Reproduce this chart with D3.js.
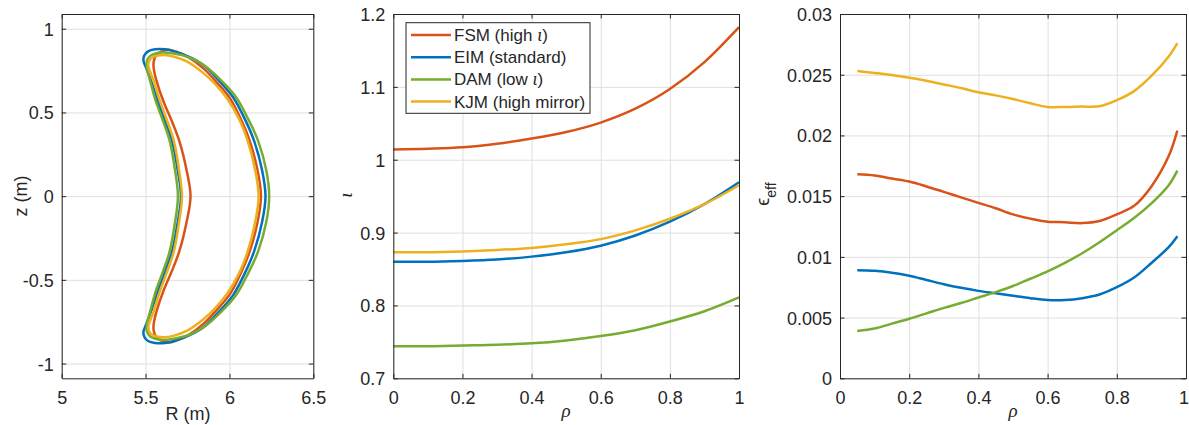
<!DOCTYPE html>
<html>
<head>
<meta charset="utf-8">
<script src="https://cdn.jsdelivr.net/npm/d3@7/dist/d3.min.js"></script>
<style>
  body { margin: 0; background: #fff; }
  svg { display: block; }
  text { font-family: "Liberation Sans", Arial, Helvetica, sans-serif; fill: #262626; }
  .greek { font-family: "Liberation Serif", "Times New Roman", serif; font-style: italic; }
</style>
</head>
<body>
<svg id="fig" width="1189" height="425"></svg>
<script>
// ---------- configurations ----------
const configNames = ["FSM", "EIM", "DAM", "KJM"];
const legendMain = ["FSM (high ", "EIM (standard)", "DAM (low ", "KJM (high mirror)"];
const legendIota = [true, false, true, false];

// ---------- plasma boundary at phi = 0, [R, z] in metres ----------
// each loop: inner side z=0 -> upper tip -> outer side -> lower tip -> back
const boundaryFSM = [
  [5.768,0],[5.745,0.153],[5.700,0.333],[5.655,0.452],[5.605,0.57],[5.565,0.69],[5.549,0.76],[5.548,0.80],
  [5.560,0.835],[5.590,0.862],[5.636,0.874],[5.680,0.864],[5.755,0.83],[5.848,0.76],[5.924,0.68],
  [6.003,0.585],[6.068,0.46],[6.120,0.333],[6.168,0.153],[6.188,0],
  [6.168,-0.153],[6.120,-0.333],[6.068,-0.46],[6.003,-0.585],[5.924,-0.68],[5.848,-0.76],[5.755,-0.83],
  [5.680,-0.864],[5.636,-0.874],[5.590,-0.862],[5.560,-0.835],[5.548,-0.80],[5.549,-0.76],[5.565,-0.69],
  [5.605,-0.57],[5.655,-0.452],[5.700,-0.333],[5.745,-0.153]
];
const boundaryEIM = [
  [5.711,0],[5.692,0.153],[5.657,0.333],[5.615,0.452],[5.572,0.57],[5.532,0.69],[5.502,0.77],[5.488,0.806],
  [5.492,0.840],[5.515,0.865],[5.556,0.877],[5.616,0.877],[5.680,0.862],[5.760,0.832],[5.845,0.783],
  [5.938,0.69],[6.022,0.591],[6.092,0.46],[6.146,0.333],[6.195,0.153],[6.215,0],
  [6.195,-0.153],[6.146,-0.333],[6.092,-0.46],[6.022,-0.591],[5.938,-0.69],[5.845,-0.783],[5.760,-0.832],
  [5.680,-0.862],[5.616,-0.877],[5.556,-0.877],[5.515,-0.865],[5.492,-0.840],[5.488,-0.806],[5.502,-0.77],
  [5.532,-0.69],[5.572,-0.57],[5.615,-0.452],[5.657,-0.333],[5.692,-0.153]
];
const boundaryDAM = [
  [5.693,0],[5.676,0.153],[5.643,0.333],[5.603,0.452],[5.560,0.57],[5.527,0.69],[5.510,0.755],[5.506,0.785],
  [5.511,0.815],[5.528,0.838],[5.560,0.852],[5.600,0.858],[5.660,0.853],[5.760,0.828],[5.850,0.780],
  [5.952,0.69],[6.040,0.591],[6.112,0.46],[6.170,0.333],[6.220,0.153],[6.237,0],
  [6.220,-0.153],[6.170,-0.333],[6.112,-0.46],[6.040,-0.591],[5.952,-0.69],[5.850,-0.780],[5.760,-0.828],
  [5.660,-0.853],[5.600,-0.858],[5.560,-0.852],[5.528,-0.838],[5.511,-0.815],[5.506,-0.785],[5.510,-0.755],
  [5.527,-0.69],[5.560,-0.57],[5.603,-0.452],[5.643,-0.333],[5.676,-0.153]
];
const boundaryKJM = [
  [5.717,0],[5.700,0.153],[5.668,0.333],[5.628,0.452],[5.585,0.57],[5.548,0.69],[5.524,0.752],[5.517,0.780],
  [5.521,0.808],[5.540,0.828],[5.575,0.840],[5.610,0.843],[5.670,0.833],[5.745,0.805],[5.845,0.735],
  [5.914,0.67],[5.988,0.58],[6.058,0.46],[6.108,0.333],[6.154,0.153],[6.174,0],
  [6.154,-0.153],[6.108,-0.333],[6.058,-0.46],[5.988,-0.58],[5.914,-0.67],[5.845,-0.735],[5.745,-0.805],
  [5.670,-0.833],[5.610,-0.843],[5.575,-0.840],[5.540,-0.828],[5.521,-0.808],[5.517,-0.780],[5.524,-0.752],
  [5.548,-0.69],[5.585,-0.57],[5.628,-0.452],[5.668,-0.333],[5.700,-0.153]
];

// ---------- rotational transform profiles ----------
const rhoIota = [0, 0.1, 0.2, 0.3, 0.4, 0.5, 0.6, 0.7, 0.8, 0.9, 1.0];
const iotaFSM = [1.014, 1.015, 1.017, 1.022, 1.029, 1.038, 1.051, 1.070, 1.097, 1.134, 1.182];
const iotaEIM = [0.860, 0.860, 0.861, 0.863, 0.867, 0.873, 0.882, 0.896, 0.915, 0.939, 0.969];
const iotaDAM = [0.744, 0.744, 0.745, 0.746, 0.748, 0.752, 0.758, 0.766, 0.778, 0.792, 0.811];
const iotaKJM = [0.873, 0.873, 0.874, 0.876, 0.879, 0.884, 0.891, 0.903, 0.919, 0.939, 0.965];

// ---------- effective ripple profiles ----------
const rhoEps = [0.05, 0.1, 0.15, 0.2, 0.25, 0.3, 0.35, 0.4, 0.45, 0.5, 0.55, 0.6, 0.65, 0.7, 0.75, 0.8, 0.85, 0.9, 0.95, 0.975];
const epsFSM = [0.0168, 0.0167, 0.01645, 0.0162, 0.0158, 0.01535, 0.0149, 0.01445, 0.0140, 0.0135, 0.01315, 0.0129, 0.01285, 0.01278, 0.01295, 0.0135, 0.0142, 0.0158, 0.0183, 0.0204];
const epsEIM = [0.0089, 0.00885, 0.0087, 0.00845, 0.0081, 0.00775, 0.00745, 0.0072, 0.0070, 0.0068, 0.0066, 0.00645, 0.00645, 0.0066, 0.0069, 0.0075, 0.0083, 0.0095, 0.0108, 0.0117];
const epsDAM = [0.0039, 0.0041, 0.0045, 0.0049, 0.00535, 0.0058, 0.0062, 0.00665, 0.0071, 0.0076, 0.0082, 0.0088, 0.0095, 0.0103, 0.0112, 0.0122, 0.0132, 0.0144, 0.0159, 0.0171];
const epsKJM = [0.0253, 0.02515, 0.02498, 0.02475, 0.0245, 0.0242, 0.0239, 0.02355, 0.0233, 0.0230, 0.02265, 0.02235, 0.02235, 0.02238, 0.0224, 0.0229, 0.02365, 0.0249, 0.0265, 0.0276];

// ---------- ticks ----------
const rTicks = [5, 5.5, 6, 6.5],            rTickLabels = ["5", "5.5", "6", "6.5"];
const zTicks = [-1, -0.5, 0, 0.5, 1],       zTickLabels = ["-1", "-0.5", "0", "0.5", "1"];
const rhoTicks = [0, 0.2, 0.4, 0.6, 0.8, 1], rhoTickLabels = ["0", "0.2", "0.4", "0.6", "0.8", "1"];
const iotaTicks = [0.7, 0.8, 0.9, 1, 1.1, 1.2], iotaTickLabels = ["0.7", "0.8", "0.9", "1", "1.1", "1.2"];
const epsTicks = [0, 0.005, 0.01, 0.015, 0.02, 0.025, 0.03],
      epsTickLabels = ["0", "0.005", "0.01", "0.015", "0.02", "0.025", "0.03"];

// ---------- styling ----------
const colors = ["#D95319", "#0072BD", "#77AC30", "#EDB120"];
const axisColor = "#262626", gridColor = "#dfdfdf";
const fontSize = 18, lineW = 2.5, tickLen = 4.5;

const svg = d3.select("#fig");

function makePanel(box, xDom, yDom, xT, xTL, yT, yTL) {
  const x = d3.scaleLinear().domain(xDom).range([box.l, box.r]);
  const y = d3.scaleLinear().domain(yDom).range([box.b, box.t]);
  const g = svg.append("g");
  const h = box.b - box.t, w = box.r - box.l;

  // grid
  g.append("g").attr("transform", `translate(0,${box.b})`)
    .call(d3.axisBottom(x).tickValues(xT).tickSize(-h).tickFormat(""))
    .call(s => { s.select(".domain").remove(); s.selectAll("line").attr("stroke", gridColor); });
  g.append("g").attr("transform", `translate(${box.l},0)`)
    .call(d3.axisLeft(y).tickValues(yT).tickSize(-w).tickFormat(""))
    .call(s => { s.select(".domain").remove(); s.selectAll("line").attr("stroke", gridColor); });

  const styleAxis = s => {
    s.select(".domain").attr("stroke", axisColor);
    s.selectAll(".tick line").attr("stroke", axisColor);
    s.selectAll("text").attr("fill", axisColor).attr("font-size", fontSize)
      .attr("font-family", '"Liberation Sans", Arial, Helvetica, sans-serif');
  };
  return {
    x, y, g,
    axes() {
      const bottom = g.append("g").attr("transform", `translate(0,${box.b})`)
        .call(d3.axisBottom(x).tickValues(xT).tickSizeInner(-tickLen).tickSizeOuter(0)
          .tickPadding(13).tickFormat((d, i) => xTL[i])).call(styleAxis);
      g.append("g").attr("transform", `translate(0,${box.t})`)
        .call(d3.axisTop(x).tickValues(xT).tickSizeInner(-tickLen).tickSizeOuter(0).tickFormat(""))
        .call(styleAxis);
      g.append("g").attr("transform", `translate(${box.l},0)`)
        .call(d3.axisLeft(y).tickValues(yT).tickSizeInner(-tickLen).tickSizeOuter(0)
          .tickPadding(8).tickFormat((d, i) => yTL[i])).call(styleAxis)
        .call(s => s.selectAll("text").attr("dy", "0.36em"));
      g.append("g").attr("transform", `translate(${box.r},0)`)
        .call(d3.axisRight(y).tickValues(yT).tickSizeInner(-tickLen).tickSizeOuter(0).tickFormat(""))
        .call(styleAxis);
      return bottom;
    }
  };
}

// ---------- panel 1: boundaries ----------
const p1 = makePanel({ l: 61.7, r: 313.3, t: 14, b: 378.3 }, [5, 6.5], [-1.088, 1.088],
  rTicks, rTickLabels, zTicks, zTickLabels);
const boundaries = [boundaryFSM, boundaryEIM, boundaryDAM, boundaryKJM];
const loop = d3.line().x(d => p1.x(d[0])).y(d => p1.y(d[1])).curve(d3.curveCatmullRomClosed.alpha(0.5));
boundaries.forEach((b, i) => {
  p1.g.append("path").attr("d", loop(b)).attr("fill", "none")
    .attr("stroke", colors[i]).attr("stroke-width", lineW).attr("stroke-linejoin", "round");
});
p1.axes();
svg.append("text").attr("x", 188).attr("y", 420).attr("text-anchor", "middle")
  .attr("font-size", fontSize).text("R (m)");
svg.append("text").attr("transform", "translate(27,196) rotate(-90)").attr("text-anchor", "middle")
  .attr("font-size", fontSize).text("z (m)");

// ---------- panel 2: iota ----------
const p2 = makePanel({ l: 393.3, r: 739, t: 14, b: 378.3 }, [0, 1], [0.7, 1.2],
  rhoTicks, rhoTickLabels, iotaTicks, iotaTickLabels);
const iotas = [iotaFSM, iotaEIM, iotaDAM, iotaKJM];
const lineI = d3.line().x((d, i) => p2.x(rhoIota[i])).y(d => p2.y(d)).curve(d3.curveMonotoneX);
iotas.forEach((v, i) => {
  p2.g.append("path").attr("d", lineI(v)).attr("fill", "none")
    .attr("stroke", colors[i]).attr("stroke-width", lineW);
});
p2.axes();
svg.append("text").attr("class", "greek").attr("x", 566).attr("y", 417).attr("text-anchor", "middle")
  .attr("font-size", fontSize + 1).text("ρ");
svg.append("text").attr("class", "greek").attr("transform", "translate(352,195) rotate(-90)")
  .attr("text-anchor", "middle").attr("font-size", fontSize + 1).text("ι");

// legend
const leg = svg.append("g");
leg.append("rect").attr("x", 406).attr("y", 22.7).attr("width", 184).attr("height", 90.6)
  .attr("fill", "#fff").attr("stroke", axisColor).attr("stroke-width", 1);
configNames.forEach((n, i) => {
  const cy = 35 + i * 22.2;
  leg.append("line").attr("x1", 411).attr("x2", 451).attr("y1", cy).attr("y2", cy)
    .attr("stroke", colors[i]).attr("stroke-width", lineW);
  const t = leg.append("text").attr("x", 454).attr("y", cy + 6).attr("font-size", 17);
  t.append("tspan").text(legendMain[i]);
  if (legendIota[i]) {
    t.append("tspan").attr("class", "greek").attr("font-size", 18).text("ι");
    t.append("tspan").text(")");
  }
});

// ---------- panel 3: effective ripple ----------
const p3 = makePanel({ l: 840, r: 1186, t: 14, b: 378.3 }, [0, 1], [0, 0.03],
  rhoTicks, rhoTickLabels, epsTicks, epsTickLabels);
const epss = [epsFSM, epsEIM, epsDAM, epsKJM];
const lineE = d3.line().x((d, i) => p3.x(rhoEps[i])).y(d => p3.y(d)).curve(d3.curveCatmullRom.alpha(0.5));
epss.forEach((v, i) => {
  p3.g.append("path").attr("d", lineE(v)).attr("fill", "none")
    .attr("stroke", colors[i]).attr("stroke-width", lineW);
});
const p3Bottom = p3.axes();
// keep the last tick label inside the canvas edge
p3Bottom.selectAll(".tick text").filter((d, i, n) => i === n.length - 1).attr("dx", -2.5);
svg.append("text").attr("class", "greek").attr("x", 1013).attr("y", 417).attr("text-anchor", "middle")
  .attr("font-size", fontSize + 1).text("ρ");
const el = svg.append("text").attr("transform", "translate(769,194) rotate(-90)").attr("text-anchor", "middle")
  .attr("font-size", fontSize);
el.append("tspan").text("ϵ");
el.append("tspan").attr("font-size", 14).attr("dy", 7).text("eff");
</script>
</body>
</html>
